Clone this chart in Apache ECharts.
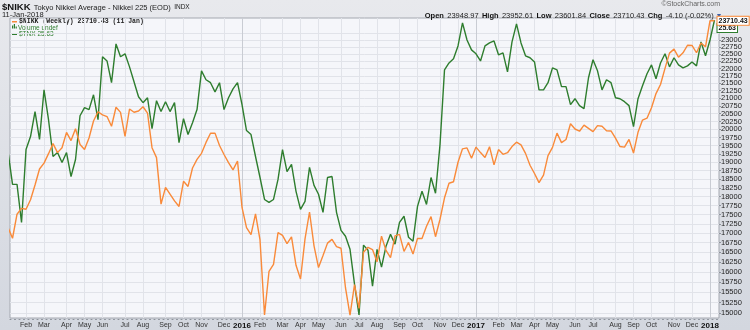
<!DOCTYPE html>
<html><head><meta charset="utf-8">
<script src="https://cdn.jsdelivr.net/npm/echarts@6/dist/echarts.min.js"></script>
<style>html,body{margin:0;padding:0;}body{width:750px;height:330px;background:linear-gradient(#e8e9ed,#d3d7df);overflow:hidden}#c{width:750px;height:330px;}</style>
</head><body><div id="c"></div><script>
// Weekly index 0 = week of 5-Jan-2015 ... index 157 = week of 8-Jan-2018
const monthTicks = [4,8,13,17,21,26,30,35,39,43,48,52,56,61,65,69,74,78,82,87,91,96,100,104,109,113,117,121,126,130,135,139,143,148,152,156];
const monthLabels = ['Feb','Mar','Apr','May','Jun','Jul','Aug','Sep','Oct','Nov','Dec','2016','Feb','Mar','Apr','May','Jun','Jul','Aug','Sep','Oct','Nov','Dec','2017','Feb','Mar','Apr','May','Jun','Jul','Aug','Sep','Oct','Nov','Dec','2018'];
const yearTicks = [52,104,156];
const priceTicks = [15000,15250,15500,15750,16000,16250,16500,16750,17000,17250,17500,17750,18000,18250,18500,18750,19000,19250,19500,19750,20000,20250,20500,20750,21000,21250,21500,21750,22000,22250,22500,22750,23000,23250];

const nikk = [17150,16864,17511,17674,17648,17913,18332,18798,18971,19254,
19560,19286,19435,19908,19652,20020,19532,19380,19733,20264,
20563,20461,20407,20100,20706,20540,19780,20650,20544,20585,
20724,20520,19436,19136,17792,18264,18070,17880,17725,18438,
18291,18826,19083,19265,19597,19880,19884,19504,19230,18987,
18770,19034,17698,17147,16958,17518,16819,14952,16014,16188,
17015,16939,16724,16900,16164,15821,16848,17572,16666,16106,
16412,16736,16835,16642,16601,15600,14952,15682,15107,16497,
16627,16569,16254,16920,16545,16360,16926,16965,16519,16754,
16450,16860,16856,17184,17446,16905,17374,17968,18381,18426,
18996,19401,19428,19114,19454,19287,19137,19467,18918,19378,
19235,19283,19469,19605,19522,19263,18909,18665,18400,18620,
19197,19446,19883,19591,19687,20178,20013,19943,20133,20033,
19929,20119,20100,19960,19952,19730,19470,19453,19691,19275,
19910,20296,20356,20691,21155,21457,22008,22539,22681,22397,
22551,22819,22811,22553,22902,22765,23715,23710.43];

const tnx = [20.30,18.97,18.97,17.43,20.38,20.91,21.92,20.79,22.80,21.59,
20.10,20.26,19.86,20.26,19.29,19.98,21.75,22.08,22.00,22.60,
21.59,24.14,23.97,23.09,24.66,24.14,24.26,23.73,23.13,22.52,
22.28,22.48,21.23,22.36,21.92,22.32,21.92,22.28,20.66,21.63,
20.99,21.47,22.00,23.57,23.21,23.09,22.72,23.09,22.00,22.48,
22.84,23.09,22.20,21.15,20.99,20.10,19.25,18.36,18.24,18.36,
19.17,20.38,19.49,19.78,18.69,17.96,18.28,19.66,18.93,18.57,
17.84,19.25,19.29,17.84,17.11,16.87,16.34,14.93,13.68,16.51,
16.30,14.85,16.34,15.62,16.47,16.95,16.55,17.43,17.68,16.83,
16.67,18.08,18.69,18.16,19.25,18.61,20.58,23.61,23.89,24.06,
24.58,25.51,24.82,24.42,24.26,23.97,24.58,24.70,24.78,24.22,
24.30,23.53,24.74,25.47,24.70,24.18,24.10,23.93,22.80,22.80,
23.09,23.69,23.61,22.93,22.93,22.20,22.44,22.16,22.04,23.29,
24.02,23.57,22.80,23.21,23.09,22.48,22.44,22.32,22.16,21.31,
22.44,22.97,23.45,23.81,23.25,23.89,24.26,23.73,24.10,23.81,
23.69,23.77,23.93,23.77,24.74,24.18,24.82,25.63];

const ORANGE = '#f98a3a', GREEN = '#2e7d2e';
const FONT = '"Liberation Sans", Arial, sans-serif';
const nikkData = nikk.map((v, i) => [i, v]);
const tnxData = tnx.map((v, i) => [i, v]);

const chart = echarts.init(document.getElementById('c'), null, {renderer: 'canvas'});
chart.setOption({
  animation: false,
  backgroundColor: 'transparent',
  textStyle: {fontFamily: FONT},
  grid: {left: 10, right: 31, top: 18, bottom: 11, show: true, backgroundColor: '#f5f6fa', borderColor: '#a4a8b0', borderWidth: 1, containLabel: false},
  xAxis: [
    {type: 'value', min: 0.44, max: 158, position: 'bottom', offset: 1,
      axisLine: {show: true, lineStyle: {color: '#8d929b', type: [1, 3.5], width: 1}},
      axisTick: {show: false, customValues: monthTicks},
      splitLine: {show: true, lineStyle: {color: '#e1e3e9', width: 1}},
      axisLabel: {customValues: monthTicks, margin: 3, fontSize: 7, color: '#333',
        formatter: v => { const k = monthTicks.indexOf(Math.round(v)); const s = k >= 0 ? monthLabels[k] : ''; return /^\d{4}$/.test(s) ? '{y|' + s + '}' : s; },
        rich: {y: {fontSize: 8, fontWeight: 'bold', color: '#111', fontFamily: FONT}}}},
    {type: 'value', min: 0.44, max: 158, position: 'top',
      axisLine: {show: false}, axisTick: {show: false, customValues: yearTicks},
      axisLabel: {show: false, customValues: yearTicks},
      splitLine: {show: true, lineStyle: {color: '#c9ccd3', width: 1}}}
  ],
  yAxis: [
    {type: 'log', logBase: 10, min: 14883, max: 23815, position: 'right',
      axisLine: {show: false},
      axisTick: {show: true, length: 2, inside: false, customValues: priceTicks, lineStyle: {color: '#8d929b'}},
      splitLine: {show: true, lineStyle: {color: '#e1e3e9', width: 1}},
      axisLabel: {customValues: priceTicks, margin: 2, fontSize: 7.5, color: '#222', formatter: v => String(Math.round(v))}},
    {type: 'value', min: 13.559, max: 25.71, show: false, position: 'left', splitLine: {show: false}}
  ],
  series: [
    {name: '$TNX', type: 'line', xAxisIndex: 0, yAxisIndex: 1, data: tnxData, symbol: 'none', z: 3,
      lineStyle: {color: GREEN, width: 1.4}, itemStyle: {color: GREEN},
      endLabel: {show: true, distance: 3, offset: [0, 8], formatter: p => p.value[1].toFixed(2), fontSize: 7, fontWeight: 'bold', color: '#111',
        backgroundColor: '#fff', borderColor: GREEN, borderWidth: 1, padding: [1, 1, 0, 1]}},
    {name: '$NIKK', type: 'line', xAxisIndex: 0, yAxisIndex: 0, data: nikkData, symbol: 'none', z: 4,
      lineStyle: {color: ORANGE, width: 1.4}, itemStyle: {color: ORANGE},
      endLabel: {show: true, distance: 3, formatter: p => p.value[1].toFixed(2), fontSize: 7, fontWeight: 'bold', color: '#111',
        backgroundColor: '#fff', borderColor: ORANGE, borderWidth: 1, padding: [1, 1, 0, 1]}}
  ],
  graphic: [
    {type: 'text', x: 2, y: 1.5, style: {text: '{a|$NIKK} {b|Tokyo Nikkei Average - Nikkei 225 (EOD)} {c|INDX}',
      rich: {a: {fontSize: 9.5, fontWeight: 'bold', fill: '#111', fontFamily: FONT}, b: {fontSize: 7.5, fill: '#222', fontFamily: FONT}, c: {fontSize: 6.5, fill: '#222', fontFamily: FONT}}}},
    {type: 'text', x: 2, y: 10.5, style: {text: '11-Jan-2018', fontSize: 7.5, fill: '#222', fontFamily: FONT}},
    {type: 'text', x: 720, y: 1, style: {text: '\u00a9StockCharts.com', fontSize: 7, fill: '#666', fontFamily: FONT, align: 'right'}},
    {type: 'text', x: 721, y: 9.5, style: {align: 'right',
      text: '{l|Open} {v|23948.97} {l|High} {v|23952.61} {l|Low} {v|23601.84} {l|Close} {v|23710.43} {l|Chg} {v|-4.10 (-0.02%)} {t|\u25be}',
      rich: {l: {fontSize: 7.5, fontWeight: 'bold', fill: '#111', fontFamily: FONT}, v: {fontSize: 7.5, fill: '#222', fontFamily: FONT}, t: {fontSize: 8, fill: '#3a5ea8', fontFamily: FONT}}}},
    {type: 'rect', shape: {x: 12, y: 21, width: 5, height: 1.5}, style: {fill: ORANGE}},
    {type: 'text', x: 19, y: 18, style: {text: '$NIKK (Weekly) 23710.43 (11 Jan)', fontSize: 6.5, fontWeight: 'bold', fill: '#222', fontFamily: '"Liberation Mono", "DejaVu Sans Mono", monospace'}},
    {type: 'rect', shape: {x: 12, y: 25.5, width: 1.2, height: 3}, style: {fill: GREEN}},
    {type: 'rect', shape: {x: 13.8, y: 24, width: 1.2, height: 4.5}, style: {fill: GREEN}},
    {type: 'rect', shape: {x: 15.6, y: 26.5, width: 1.2, height: 2}, style: {fill: GREEN}},
    {type: 'text', x: 18, y: 24.5, style: {text: 'Volume undef', fontSize: 6.5, fill: GREEN, fontFamily: FONT}},
    {type: 'rect', shape: {x: 12, y: 33.5, width: 5, height: 1.5}, style: {fill: GREEN}},
    {type: 'text', x: 19, y: 31, style: {text: '$TNX 25.63', fontSize: 6.5, fill: GREEN, fontFamily: FONT}}
  ]
});
</script></body></html>
